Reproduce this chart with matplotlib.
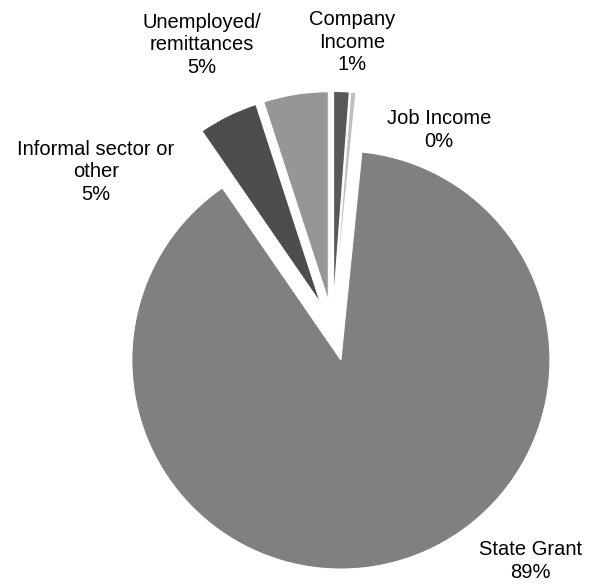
import matplotlib.pyplot as plt

# Household income sources (share of households, %)
sources = ['Company\nIncome', 'Job Income', 'State Grant',
           'Informal sector or\nother', 'Unemployed/\nremittances']
shares = [1.2, 0.4, 88.8, 4.6, 5.0]
colours = ['#585858', '#c0c0c0', '#808080', '#4d4d4d', '#969696']
explode = [0.13, 0.13, 0.16, 0.13, 0.13]

# where each label sits (data units, pie radius = 1)
label_xy = [(0.093, 1.366), (0.51, 0.945), (0.945, -1.117),
            (-1.132, 0.745), (-0.624, 1.352)]

plt.rcParams['font.family'] = ['Liberation Sans', 'DejaVu Sans']

fig = plt.figure(figsize=(5.92, 5.85), dpi=100)
ax = fig.add_axes([0, 0, 1, 1])

ax.pie(shares, colors=colours, explode=explode, startangle=90,
       counterclock=False, radius=1,
       wedgeprops=dict(edgecolor='white', linewidth=0.8))

for name, val, (x, y) in zip(sources, shares, label_xy):
    ax.text(x, y, '%s\n%.0f%%' % (name, val), ha='center', va='center',
            fontsize=14.5, linespacing=1.22, color='black')

ax.set_xlim(-1.591, 1.241)
ax.set_ylim(-1.231, 1.567)
ax.set_aspect('equal')
ax.axis('off')

fig.savefig('out.png', dpi=100, facecolor='white')
